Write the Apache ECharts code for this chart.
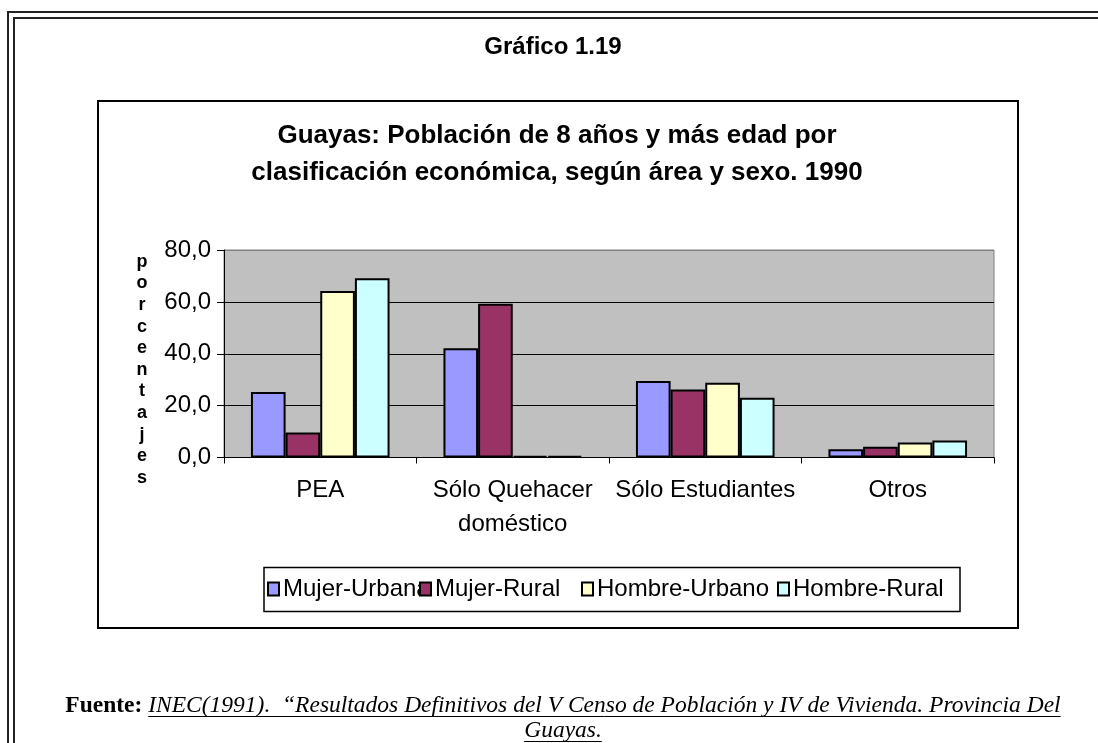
<!DOCTYPE html>
<html><head><meta charset="utf-8">
<script src="https://cdn.jsdelivr.net/npm/echarts@6/dist/echarts.min.js"></script>
<style>html,body{margin:0;padding:0;background:#fff}#c{width:1098px;height:743px}</style>
</head><body><div id="c"></div>
<script>
const figureLabel = 'Gráfico 1.19';
const chartTitle = 'Guayas: Población de 8 años y más edad por\nclasificación económica, según área y sexo. 1990';
const yAxisTitle = 'porcentajes';
const categories = ['PEA', 'Sólo Quehacer\ndoméstico', 'Sólo Estudiantes', 'Otros'];
const seriesNames = ['Mujer-Urbana', 'Mujer-Rural', 'Hombre-Urbano', 'Hombre-Rural'];
const mujerUrbana = [25.3, 42.1, 29.5, 3.2];
const mujerRural = [9.6, 59.3, 26.2, 4.1];
const hombreUrbano = [64.2, 0.6, 28.8, 5.8];
const hombreRural = [69.1, 0.6, 23.0, 6.6];
const yTicks = [0, 20, 40, 60, 80];
const sourceLabel = 'Fuente: ';
const sourceLine1 = 'INEC(1991).  \u201cResultados Definitivos del V Censo de Población y IV de Vivienda. Provincia Del';
const sourceLine2 = 'Guayas.';

const seriesData = [mujerUrbana, mujerRural, hombreUrbano, hombreRural];
const colors = ['#9999FF', '#993366', '#FFFFCC', '#CCFFFF'];
const legendLefts = [267, 419, 581, 777];
const sans = '"Liberation Sans", Arial, sans-serif';

const chart = echarts.init(document.getElementById('c'), null, {renderer: 'canvas'});

const ctx = document.createElement('canvas').getContext('2d');
function tw(font, s) { ctx.font = font; return ctx.measureText(s).width; }
const serif = '"Liberation Serif", "Times New Roman", serif';
const fs = 23.5;
const boldFont = 'bold ' + fs + 'px ' + serif;
const itFont = 'italic ' + fs + 'px ' + serif;
const wb = tw(boldFont, sourceLabel);
const w1 = tw(itFont, sourceLine1);
const w2 = tw(itFont, sourceLine2);
const cx = 563;
const l1 = cx - (wb + w1) / 2;
const y1 = 706, y2 = 731;

const graphic = [
  {type: 'rect', shape: {x: 8, y: 12, width: 1200, height: 800}, style: {fill: null, stroke: '#222', lineWidth: 2}, silent: true},
  {type: 'rect', shape: {x: 14, y: 18, width: 1200, height: 800}, style: {fill: null, stroke: '#222', lineWidth: 2}, silent: true},
  {type: 'rect', shape: {x: 98, y: 101, width: 920, height: 527}, style: {fill: null, stroke: '#000', lineWidth: 2}, silent: true},
  {type: 'rect', shape: {x: 264, y: 567.5, width: 696, height: 44}, style: {fill: null, stroke: '#000', lineWidth: 1.5}, silent: true},
  {type: 'text', x: 553, y: 47, style: {text: figureLabel, font: 'bold 24px ' + sans, fill: '#000', align: 'center', verticalAlign: 'middle'}},
  {type: 'text', x: 142, y: 251, style: {text: yAxisTitle.split('').join('\n'), font: 'bold 18px ' + sans, fill: '#000', align: 'center', verticalAlign: 'top', lineHeight: 21.6}},
  {type: 'text', x: l1, y: y1, style: {text: sourceLabel, font: boldFont, fill: '#000', align: 'left', verticalAlign: 'middle'}},
  {type: 'text', x: l1 + wb, y: y1, style: {text: sourceLine1, font: itFont, fill: '#000', align: 'left', verticalAlign: 'middle'}},
  {type: 'line', shape: {x1: l1 + wb, y1: y1 + 10.5, x2: l1 + wb + w1, y2: y1 + 10.5}, style: {stroke: '#000', lineWidth: 1}},
  {type: 'text', x: cx - w2 / 2, y: y2, style: {text: sourceLine2, font: itFont, fill: '#000', align: 'left', verticalAlign: 'middle'}},
  {type: 'line', shape: {x1: cx - w2 / 2, y1: y2 + 10.5, x2: cx + w2 / 2, y2: y2 + 10.5}, style: {stroke: '#000', lineWidth: 1}}
];

const option = {
  animation: false,
  backgroundColor: '#fff',
  title: {
    text: chartTitle, left: 552, top: 112, textAlign: 'center',
    textStyle: {fontFamily: sans, fontWeight: 'bold', fontSize: 26, lineHeight: 37, color: '#000'}
  },
  legend: seriesNames.map((n, i) => ({
    data: [n], left: legendLefts[i], top: 577, padding: 0, icon: 'rect', itemWidth: 11, itemHeight: 13, itemGap: 0,
    textStyle: {fontFamily: sans, fontSize: 24, color: '#000', padding: [0, 0, 0, -1]},
    selectedMode: false
  })),
  grid: {left: 224, right: 104, top: 250, bottom: 285.5, show: true, backgroundColor: '#C0C0C0', borderColor: '#808080', borderWidth: 1},
  xAxis: {
    type: 'category', data: categories, boundaryGap: true,
    axisLine: {lineStyle: {color: '#000', width: 1}},
    axisTick: {show: true, length: 6, lineStyle: {color: '#000'}},
    axisLabel: {fontFamily: sans, fontSize: 24, lineHeight: 34, color: '#000', margin: 16, interval: 0}
  },
  yAxis: {
    type: 'value', min: yTicks[0], max: yTicks[yTicks.length - 1], interval: 20,
    axisLine: {show: true, lineStyle: {color: '#000', width: 1}},
    axisTick: {show: true, length: 7, lineStyle: {color: '#000'}},
    axisLabel: {fontFamily: sans, fontSize: 24, color: '#000', margin: 13, formatter: v => v.toFixed(1).replace('.', ',')},
    splitLine: {show: true, lineStyle: {color: ['#000', '#000', '#000', '#000', '#808080'], width: 1}}
  },
  series: seriesNames.map((n, i) => ({
    name: n, type: 'bar', data: seriesData[i], barGap: '0%', barCategoryGap: '28%',
    itemStyle: {color: colors[i], borderColor: '#000', borderWidth: 2}
  })),
  graphic: graphic
};
chart.setOption(option);
</script></body></html>
